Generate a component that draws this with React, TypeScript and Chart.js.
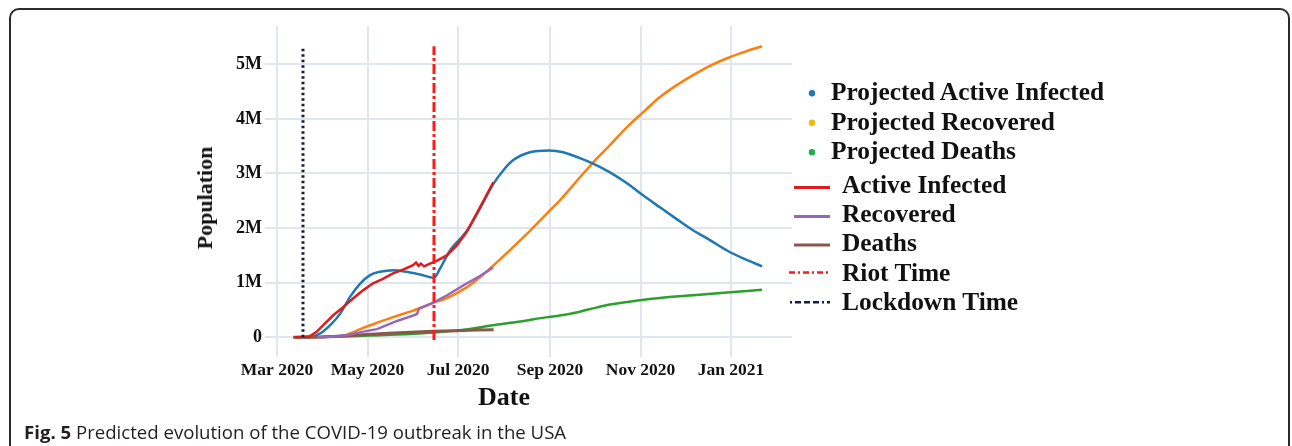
import React, { useEffect, useRef } from "react";
import { Chart, registerables } from "chart.js";

Chart.register(...registerables);

// x values are days since 2020-03-01; y values are in millions of people
const xTickDays = [0, 61, 122, 184, 245, 306];
const xTickLabels = ["Mar 2020", "May 2020", "Jul 2020", "Sep 2020", "Nov 2020", "Jan 2021"];
const yTickValues = [0, 1, 2, 3, 4, 5];
const yTickLabels = ["0", "1M", "2M", "3M", "4M", "5M"];

const X_MIN = -8.1;
const X_MAX = 347.1;
const Y_MIN = -0.36;
const Y_MAX = 5.7;

const lockdownDay = 17.5;
const riotDay = 105.8;
const markerLineTop = 5.33;

const activeDays = [12, 19, 22, 26.7, 31, 37.7, 44.5, 51.2, 58, 64.7, 71.4, 78.2, 84.9, 91.7, 93.7, 95.4, 97, 99.1, 103.1, 107.6, 114.4, 121.1, 127.9, 136.8, 145.8];
const activeVals = [0, 0.01, 0.02, 0.1, 0.22, 0.4, 0.55, 0.71, 0.86, 0.99, 1.07, 1.17, 1.24, 1.32, 1.37, 1.31, 1.35, 1.3, 1.35, 1.4, 1.5, 1.68, 1.93, 2.38, 2.84];

const recoveredDays = [27, 35.7, 47.2, 57.3, 67.4, 80.9, 93, 94.4, 95.6, 105.1, 114.6, 128, 136.8, 145.6];
const recoveredVals = [0, 0.01, 0.04, 0.1, 0.15, 0.3, 0.41, 0.43, 0.52, 0.63, 0.77, 0.99, 1.12, 1.28];

const deathsDays = [11, 30, 45, 60, 75, 90, 105, 120, 135, 146];
const deathsVals = [0, 0.005, 0.025, 0.05, 0.075, 0.095, 0.11, 0.122, 0.133, 0.14];

const projActiveDays = [18, 22.2, 29, 35.7, 42.5, 49.2, 55.9, 62.7, 69.4, 78.4, 87.4, 96.4, 105.8, 109.9, 116.6, 123.3, 128, 136.8, 145.6, 152.3, 159, 170.5, 183.3, 192.8, 204.2, 213, 224.4, 235.9, 246.7, 258.1, 269.6, 280.4, 291.8, 303.3, 315.4, 326.9];
const projActiveVals = [0, 0.005, 0.07, 0.22, 0.43, 0.74, 0.98, 1.14, 1.2, 1.23, 1.2, 1.15, 1.09, 1.26, 1.59, 1.8, 1.95, 2.36, 2.8, 3.05, 3.24, 3.39, 3.42, 3.39, 3.28, 3.18, 3.02, 2.82, 2.6, 2.38, 2.16, 1.96, 1.78, 1.59, 1.43, 1.3];

const projRecoveredDays = [20, 35, 44.5, 49.2, 56, 64.7, 78.2, 91.7, 105.1, 114.6, 128, 136.8, 145.6, 159, 170.5, 182, 190.7, 204.2, 213, 224.4, 235.9, 246.7, 258.1, 269.6, 280.4, 291.8, 303.3, 315.4, 326.9];
const projRecoveredVals = [0, 0.01, 0.03, 0.07, 0.15, 0.24, 0.37, 0.49, 0.63, 0.72, 0.92, 1.1, 1.31, 1.65, 1.95, 2.27, 2.51, 2.93, 3.2, 3.52, 3.85, 4.12, 4.4, 4.62, 4.8, 4.97, 5.11, 5.23, 5.33];

const projDeathsDays = [11, 35.7, 49.2, 69.4, 89.6, 105.1, 123, 145.6, 163.8, 182, 190.7, 204.2, 213, 224.4, 244.7, 258.1, 280.4, 303.3, 326.9];
const projDeathsVals = [0, 0.01, 0.02, 0.04, 0.06, 0.09, 0.13, 0.22, 0.29, 0.37, 0.4, 0.47, 0.53, 0.6, 0.68, 0.72, 0.77, 0.82, 0.87];

const legendDotLabels = ["Projected Active Infected", "Projected Recovered", "Projected Deaths"];
const legendLineLabels = ["Active Infected", "Recovered", "Deaths", "Riot Time", "Lockdown Time"];

const COLORS = {
  projActive: "#1f77b4",
  projRecovered: "#ff7f0e",
  projDeaths: "#2ca02c",
  active: "#dd1c1c",
  recovered: "#9467bd",
  deaths: "#8c564b",
  riot: "#ff1a1a",
  lockdown: "#151a4d",
};

const SERIF = '"Liberation Serif", "Times New Roman", serif';

function pts(xs: number[], ys: number[]) {
  return xs.map((x, i) => ({ x, y: ys[i] }));
}

export default function App() {
  const canvasRef = useRef<HTMLCanvasElement>(null);

  useEffect(() => {
    const canvas = canvasRef.current;
    if (!canvas) return;
    const line = (label: string, xs: number[], ys: number[], color: string, width: number, extra: any = {}) => ({
      label,
      data: pts(xs, ys),
      borderColor: color,
      backgroundColor: color,
      borderWidth: width,
      pointRadius: 0,
      fill: false,
      tension: 0,
      ...extra,
    });

    const chart = new Chart(canvas, {
      type: "line",
      data: {
        datasets: [
          line("Riot Time", [riotDay, riotDay], [-0.05, markerLineTop], COLORS.riot, 3, { borderDash: [10, 3, 3, 3] }),
          line("Lockdown Time", [lockdownDay, lockdownDay], [0, markerLineTop], COLORS.lockdown, 3, { borderDash: [2.5, 3] }),
          line("Active Infected", activeDays, activeVals, COLORS.active, 2.5),
          line("Recovered", recoveredDays, recoveredVals, COLORS.recovered, 2.5),
          line("Deaths", deathsDays, deathsVals, COLORS.deaths, 3),
          line("Projected Active Infected", projActiveDays, projActiveVals, COLORS.projActive, 2.5, { cubicInterpolationMode: "monotone" }),
          line("Projected Recovered", projRecoveredDays, projRecoveredVals, COLORS.projRecovered, 2.5, { cubicInterpolationMode: "monotone" }),
          line("Projected Deaths", projDeathsDays, projDeathsVals, COLORS.projDeaths, 2.5, { cubicInterpolationMode: "monotone" }),
        ] as any,
      },
      options: {
        animation: false,
        responsive: false,
        devicePixelRatio: 1,
        layout: { padding: { left: 192, top: 26, right: 500, bottom: 49 } },
        plugins: { legend: { display: false }, tooltip: { enabled: false } },
        scales: {
          x: {
            type: "linear",
            min: X_MIN,
            max: X_MAX,
            afterBuildTicks: (s: any) => {
              s.ticks = xTickDays.map((v) => ({ value: v }));
            },
            afterFit: (s: any) => {
              s.height = 40;
            },
            ticks: {
              callback: (_v: any, i: number) => xTickLabels[i],
              autoSkip: false,
              maxRotation: 0,
              padding: 3,
              color: "#111",
              font: { family: SERIF, weight: "bold", size: 17.5 },
            },
            grid: { color: "#e1e5ee", lineWidth: 2, drawTicks: false },
            border: { display: false },
          },
          y: {
            type: "linear",
            min: Y_MIN,
            max: Y_MAX,
            afterBuildTicks: (s: any) => {
              s.ticks = yTickValues.map((v) => ({ value: v }));
            },
            afterFit: (s: any) => {
              s.width = 73;
            },
            ticks: {
              callback: (_v: any, i: number) => yTickLabels[i],
              autoSkip: false,
              padding: 3,
              color: "#111",
              font: { family: SERIF, weight: "bold", size: 18 },
            },
            grid: { color: "#e1e5ee", lineWidth: 2, drawTicks: false },
            border: { display: false },
          },
        },
      } as any,
    });
    return () => chart.destroy();
  }, []);

  const dotColors = ["#1f77b4", "#f7b500", "#1fae4b"];
  const dotCenters = [92, 121.5, 151];
  const lineCenters = [185, 214, 243.3, 272.5, 302.3];
  const lineMarkerY = [187.5, 216.5, 245, 272.5, 302.3];

  const lineMarker = (i: number) => {
    if (i === 3) {
      return (
        <line x1={789} y1={lineMarkerY[i]} x2={830} y2={lineMarkerY[i]} stroke={COLORS.riot} strokeWidth={2.5} strokeDasharray="6 3 2 3" />
      );
    }
    if (i === 4) {
      return (
        <line x1={790} y1={lineMarkerY[i]} x2={830} y2={lineMarkerY[i]} stroke={COLORS.lockdown} strokeWidth={2.5} strokeDasharray="2 3 6 3 6 3 6 3" />
      );
    }
    const c = [COLORS.active, COLORS.recovered, COLORS.deaths][i];
    return <line x1={794} y1={lineMarkerY[i]} x2={830} y2={lineMarkerY[i]} stroke={c} strokeWidth={2.8} />;
  };

  return (
    <div style={{ position: "fixed", left: 0, top: 0, width: 1292, height: 446, overflow: "hidden", background: "#fff" }}>
      <div
        style={{
          position: "absolute",
          left: 9,
          top: 8,
          width: 1281,
          height: 480,
          border: "2px solid #2a2a2a",
          borderRadius: 10,
          boxSizing: "border-box",
        }}
      />
      <canvas ref={canvasRef} width={1292} height={446} style={{ position: "absolute", left: 0, top: 0, width: 1292, height: 446 }} />
      <div
        style={{
          position: "absolute",
          left: 205,
          top: 197.5,
          transform: "translate(-50%, -50%) rotate(-90deg)",
          font: `bold 22px ${SERIF}`,
          color: "#111",
          whiteSpace: "nowrap",
        }}
      >
        Population
      </div>
      <div
        style={{
          position: "absolute",
          left: 504,
          top: 397,
          transform: "translate(-50%, -50%)",
          font: `bold 26px ${SERIF}`,
          color: "#111",
          whiteSpace: "nowrap",
          lineHeight: "30px",
        }}
      >
        Date
      </div>
      <svg width={1292} height={446} style={{ position: "absolute", left: 0, top: 0 }}>
        {dotCenters.map((cy, i) => (
          <circle key={"d" + i} cx={812} cy={cy + 1.3} r={3.2} fill={dotColors[i]} />
        ))}
        {lineCenters.map((_, i) => (
          <g key={"l" + i}>{lineMarker(i)}</g>
        ))}
      </svg>
      {legendDotLabels.map((t, i) => (
        <div
          key={"dt" + i}
          style={{
            position: "absolute",
            left: 831,
            top: dotCenters[i] - 15,
            height: 30,
            lineHeight: "30px",
            font: `bold 25.4px ${SERIF}`,
            color: "#111",
            whiteSpace: "nowrap",
          }}
        >
          {t}
        </div>
      ))}
      {legendLineLabels.map((t, i) => (
        <div
          key={"lt" + i}
          style={{
            position: "absolute",
            left: 842,
            top: lineCenters[i] - 15,
            height: 30,
            lineHeight: "30px",
            font: `bold 25.4px ${SERIF}`,
            color: "#111",
            whiteSpace: "nowrap",
          }}
        >
          {t}
        </div>
      ))}
      <div
        style={{
          position: "absolute",
          left: 24,
          top: 419,
          lineHeight: "26px",
          fontFamily: '"Open Sans", "Noto Sans", sans-serif',
          fontSize: 18.6,
          color: "#231f20",
          whiteSpace: "nowrap",
        }}
      >
        <span style={{ fontWeight: 700 }}>Fig. 5</span> Predicted evolution of the COVID-19 outbreak in the USA
      </div>
    </div>
  );
}
